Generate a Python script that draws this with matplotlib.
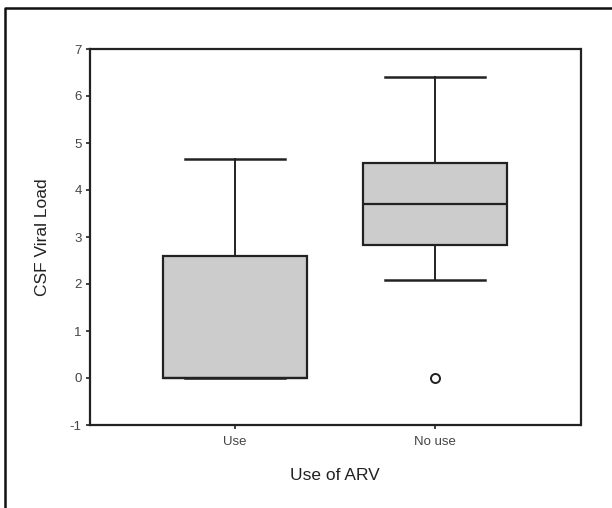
import matplotlib
matplotlib.use("Agg")
import matplotlib.pyplot as plt
from matplotlib.lines import Line2D

plt.rcParams['font.family'] = ['Liberation Sans', 'DejaVu Sans']

categories = ["Use", "No use"]
whislo = [0.0, 2.08]
q1 = [0.0, 2.82]
med = [0.0, 3.70]
q3 = [2.60, 4.57]
whishi = [4.67, 6.40]
fliers = [[], [0.0]]
yticks = [-1, 0, 1, 2, 3, 4, 5, 6, 7]

fig = plt.figure(figsize=(6.12, 5.08), dpi=100)
ax = fig.add_axes([90/612, 1-425/508, (580.5-90)/612, (425-49)/508])

stats = []
for i, c in enumerate(categories):
    stats.append(dict(label=c, whislo=whislo[i], q1=q1[i], med=med[i],
                      q3=q3[i], whishi=whishi[i], fliers=fliers[i]))

ec = '#222222'
ax.bxp(stats, positions=[1, 2], widths=0.72, patch_artist=True,
       showfliers=True,
       boxprops=dict(facecolor='#cccccc', edgecolor=ec, linewidth=1.6),
       medianprops=dict(color=ec, linewidth=1.6),
       whiskerprops=dict(color=ec, linewidth=1.4),
       capprops=dict(color=ec, linewidth=1.8),
       capwidths=0.5,
       flierprops=dict(marker='o', markerfacecolor='white', markeredgecolor=ec,
                       markersize=6.5, markeredgewidth=1.4))

ax.set_xlim(0.275, 2.725)
ax.set_ylim(-1, 7)
ax.set_yticks(yticks)
ax.set_yticklabels([str(t) for t in yticks])
ax.set_xticks([1, 2])
ax.set_xticklabels(categories)
for s in ax.spines.values():
    s.set_linewidth(1.6)
    s.set_color(ec)
ax.tick_params(axis='y', direction='out', length=3, width=1.2, colors=ec,
               labelsize=9.5, labelcolor='#444444', pad=3)
ax.tick_params(axis='x', direction='out', length=3, width=1.2, colors=ec,
               labelsize=9.5, labelcolor='#444444', pad=5)
ax.set_ylabel("CSF Viral Load", fontsize=12.5, color='#222222', labelpad=14)
ax.set_xlabel("Use of ARV", fontsize=12.5, color='#222222', labelpad=14)

fig.add_artist(Line2D([5/612, 5/612, 1.0], [0.0, 1-8/508, 1-8/508],
                      transform=fig.transFigure, color='#111111', linewidth=1.8))

fig.savefig("out.png", dpi=100)
